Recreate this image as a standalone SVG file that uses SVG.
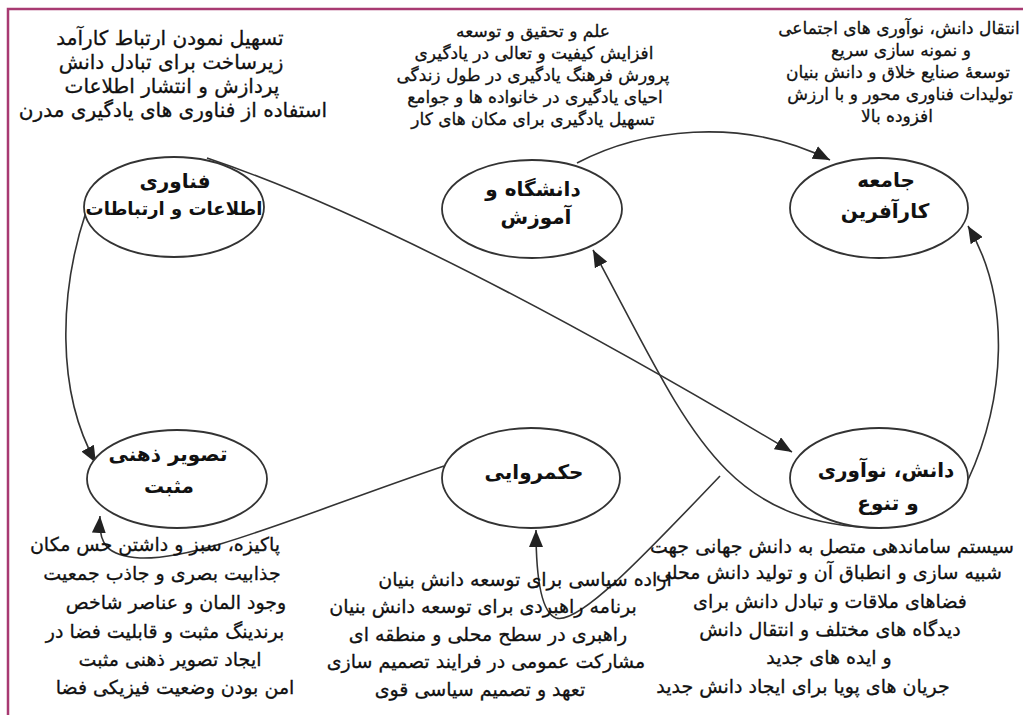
<svg xmlns="http://www.w3.org/2000/svg" width="1023" height="715" viewBox="0 0 1023 715">
<defs>
<style>
.bg{fill:#ffffff}
.frame{fill:none;stroke:#a83a72;stroke-width:2.5}
.node ellipse{fill:#ffffff;stroke:#333333;stroke-width:1.8}
.lbl{font-family:"DejaVu Sans",sans-serif;font-weight:bold;font-size:20px;fill:#111111;text-anchor:middle;direction:rtl}
.txt{font-family:"DejaVu Sans",sans-serif;font-size:17px;fill:#111111;stroke:#111111;stroke-width:0.3;text-anchor:middle;direction:rtl}
.big{font-size:20px}
.txb{font-family:"DejaVu Sans",sans-serif;font-size:19px;fill:#111111;stroke:#111111;stroke-width:0.3;text-anchor:middle;direction:rtl}
.edge{fill:none;stroke:#333333;stroke-width:1.6}
</style>
<marker id="arr" markerUnits="userSpaceOnUse" markerWidth="18" markerHeight="14" refX="17" refY="7" orient="auto">
<path d="M0,0 L17,7 L0,14 z" fill="#222222"/>
</marker>
</defs>
<rect class="bg" x="0" y="0" width="1023" height="715"/>
<path class="frame" d="M8,715 L8,9 L1023,9"/>

<g id="connectors">
<path class="edge" d="M207,158 Q420,230 792,452" marker-end="url(#arr)"/>
<path class="edge" d="M86,212 C60,290 55,390 96,463" marker-end="url(#arr)"/>
<path class="edge" d="M444,466 C300,515 200,560 140,558 C108,556 98,545 100,516" marker-end="url(#arr)"/>
<path class="edge" d="M577,163 C640,130 740,115 830,160" marker-end="url(#arr)"/>
<path class="edge" d="M968,480 C1005,400 1012,300 968,226" marker-end="url(#arr)"/>
<path class="edge" d="M882,528 C720,525 690,430 593,250" marker-end="url(#arr)"/>
<path class="edge" d="M720,476 C640,560 578,625 556,618 C540,612 536,572 536,530" marker-end="url(#arr)"/>
</g>

<g id="node-ict" class="node">
<ellipse cx="174" cy="207" rx="90" ry="50"/>
<text class="lbl" x="175" y="188">فناوری</text>
<text class="lbl" x="174" y="215" style="font-size:18px">اطلاعات و ارتباطات</text>
</g>
<g id="node-university" class="node">
<ellipse cx="532" cy="209" rx="90" ry="49"/>
<text class="lbl" x="533" y="196">دانشگاه و</text>
<text class="lbl" x="536" y="224">آموزش</text>
</g>
<g id="node-society" class="node">
<ellipse cx="879" cy="208" rx="89" ry="50"/>
<text class="lbl" x="886" y="187">جامعه</text>
<text class="lbl" x="885" y="218">کارآفرین</text>
</g>
<g id="node-image" class="node">
<ellipse cx="177" cy="479" rx="90" ry="49"/>
<text class="lbl" x="168" y="461">تصویر ذهنی</text>
<text class="lbl" x="169" y="493">مثبت</text>
</g>
<g id="node-governance" class="node">
<ellipse cx="531" cy="478" rx="89" ry="50"/>
<text class="lbl" x="534" y="479">حکمروایی</text>
</g>
<g id="node-knowledge" class="node">
<ellipse cx="879" cy="478" rx="89" ry="50"/>
<text class="lbl" x="886" y="477">دانش، نوآوری</text>
<text class="lbl" x="888" y="510">و تنوع</text>
</g>

<g id="text-ict">
<text class="txt big" x="170" y="45">تسهیل نمودن ارتباط کارآمد</text>
<text class="txt big" x="171" y="69">زیرساخت برای تبادل دانش</text>
<text class="txt big" x="172" y="93">پردازش و انتشار اطلاعات</text>
<text class="txt big" x="173" y="117">استفاده از فناوری های یادگیری مدرن</text>
</g>
<g id="text-university">
<text class="txt" x="533" y="37">علم و تحقیق و توسعه</text>
<text class="txt" x="534" y="59">افزایش کیفیت و تعالی در یادگیری</text>
<text class="txt" x="533" y="81">پرورش فرهنگ یادگیری در طول زندگی</text>
<text class="txt" x="535" y="103">احیای یادگیری در خانواده ها و جوامع</text>
<text class="txt" x="533" y="125">تسهیل یادگیری برای مکان های کار</text>
</g>
<g id="text-society">
<text class="txt" x="899" y="34">انتقال دانش، نوآوری های اجتماعی</text>
<text class="txt" x="901" y="56">و نمونه سازی سریع</text>
<text class="txt" x="898" y="78">توسعهٔ صنایع خلاق و دانش بنیان</text>
<text class="txt" x="900" y="100">تولیدات فناوری محور و با ارزش</text>
<text class="txt" x="897" y="122">افزوده بالا</text>
</g>
<g id="text-image">
<text class="txb" x="155" y="551">پاکیزه، سبز و داشتن حس مکان</text>
<text class="txb" x="162" y="580">جذابیت بصری و جاذب جمعیت</text>
<text class="txb" x="176" y="609">وجود المان و عناصر شاخص</text>
<text class="txb" x="165" y="638">برندینگ مثبت و قابلیت فضا در</text>
<text class="txb" x="170" y="666">ایجاد تصویر ذهنی مثبت</text>
<text class="txb" x="175" y="694">امن بودن وضعیت فیزیکی فضا</text>
</g>
<g id="text-governance">
<text class="txb" x="525" y="586">اراده سیاسی برای توسعه دانش بنیان</text>
<text class="txb" x="483" y="613">برنامه راهبردی برای توسعه دانش بنیان</text>
<text class="txb" x="488" y="641">راهبری در سطح محلی و منطقه ای</text>
<text class="txb" x="486" y="668">مشارکت عمومی در فرایند تصمیم سازی</text>
<text class="txb" x="480" y="696">تعهد و تصمیم سیاسی قوی</text>
</g>
<g id="text-knowledge">
<text class="txb" x="832" y="553">سیستم ساماندهی متصل به دانش جهانی جهت</text>
<text class="txb" x="829" y="579">شبیه سازی و انطباق آن و تولید دانش محلی</text>
<text class="txb" x="830" y="608">فضاهای ملاقات و تبادل دانش برای</text>
<text class="txb" x="830" y="636">دیدگاه های مختلف و انتقال دانش</text>
<text class="txb" x="829" y="664">و ایده های جدید</text>
<text class="txb" x="803" y="693">جریان های پویا برای ایجاد دانش جدید</text>
</g>
</svg>
